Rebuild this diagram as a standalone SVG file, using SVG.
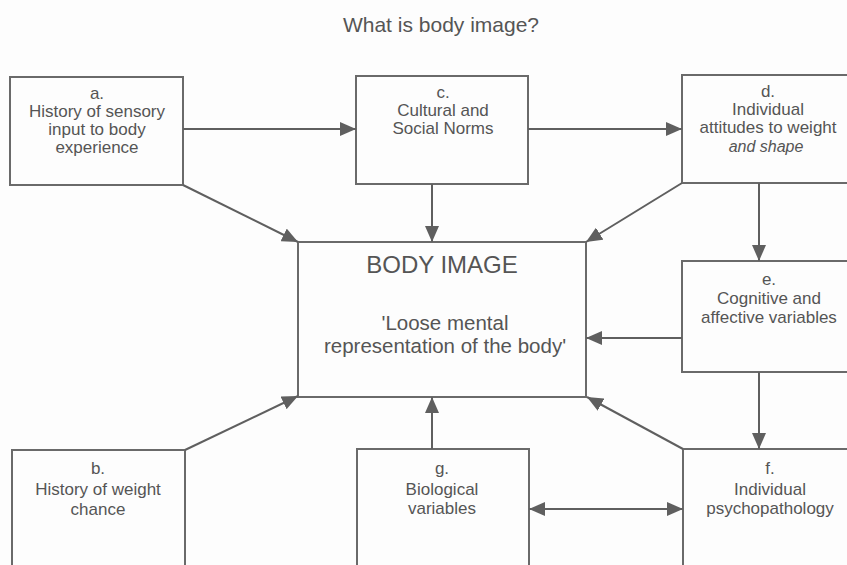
<svg xmlns="http://www.w3.org/2000/svg" width="847" height="565" viewBox="0 0 847 565">
<defs>
<marker id="ah" markerUnits="userSpaceOnUse" markerWidth="16" markerHeight="14" refX="16" refY="7" orient="auto-start-reverse">
<path d="M0,0 L16,7 L0,14 z" fill="#5f5f5f"/>
</marker>
<style>
.box{fill:none;stroke:#6a6a6a;stroke-width:2}
.t{font-family:"Liberation Sans",Arial,sans-serif;font-size:17px;fill:#555;text-anchor:middle}
.c{stroke:#5f5f5f;stroke-width:2;fill:none;marker-end:url(#ah)}
</style>
</defs>
<rect width="847" height="565" fill="#fdfdfd"/>
<text class="t" x="441" y="32" style="font-size:21px">What is body image?</text>
<g id="nodeA"><rect class="box" x="10" y="77" width="173" height="108"/>
<text class="t" x="97" y="99">a.</text><text class="t" x="97" y="117">History of sensory</text><text class="t" x="97" y="135">input to body</text><text class="t" x="97" y="153">experience</text></g>
<g id="nodeC"><rect class="box" x="356" y="76" width="172" height="108"/>
<text class="t" x="443" y="98">c.</text><text class="t" x="443" y="116">Cultural and</text><text class="t" x="443" y="134">Social Norms</text></g>
<g id="nodeD"><rect class="box" x="682" y="75" width="175" height="108"/>
<text class="t" x="768" y="97">d.</text><text class="t" x="768" y="115">Individual</text><text class="t" x="768" y="133">attitudes to weight</text><text class="t" x="766" y="152" style="font-style:italic;font-size:16px">and shape</text></g>
<g id="nodeBody"><rect class="box" x="298" y="242" width="288" height="155"/>
<text class="t" x="442" y="273" style="font-size:24px">BODY IMAGE</text>
<text class="t" x="445" y="330" style="font-size:20.5px">'Loose mental</text>
<text class="t" x="445" y="353" style="font-size:20.5px">representation of the body'</text></g>
<g id="nodeE"><rect class="box" x="682" y="261" width="175" height="111"/>
<text class="t" x="769" y="285">e.</text><text class="t" x="769" y="304">Cognitive and</text><text class="t" x="769" y="323">affective variables</text></g>
<g id="nodeB"><rect class="box" x="12" y="450" width="173" height="130"/>
<text class="t" x="98" y="474">b.</text><text class="t" x="98" y="495">History of weight</text><text class="t" x="98" y="515">chance</text></g>
<g id="nodeG"><rect class="box" x="357" y="449" width="172" height="130"/>
<text class="t" x="442" y="474">g.</text><text class="t" x="442" y="495">Biological</text><text class="t" x="442" y="514">variables</text></g>
<g id="nodeF"><rect class="box" x="683" y="449" width="175" height="130"/>
<text class="t" x="770" y="474">f.</text><text class="t" x="770" y="495">Individual</text><text class="t" x="770" y="514">psychopathology</text></g>
<g id="connectors">
<line class="c" x1="183" y1="129" x2="356" y2="129"/>
<line class="c" x1="528" y1="129" x2="682" y2="129"/>
<line class="c" x1="183" y1="185" x2="298" y2="242"/>
<line class="c" x1="432" y1="184" x2="432" y2="242"/>
<line class="c" x1="682" y1="183" x2="586" y2="242"/>
<line class="c" x1="759" y1="183" x2="759" y2="261"/>
<line class="c" x1="682" y1="338" x2="586" y2="338"/>
<line class="c" x1="759" y1="372" x2="759" y2="449"/>
<line class="c" x1="185" y1="450" x2="298" y2="396"/>
<line class="c" x1="432" y1="449" x2="432" y2="397"/>
<line class="c" x1="683" y1="449" x2="587" y2="397"/>
<line class="c" x1="529" y1="509" x2="683" y2="509" style="marker-start:url(#ah)"/>
</g>
</svg>
